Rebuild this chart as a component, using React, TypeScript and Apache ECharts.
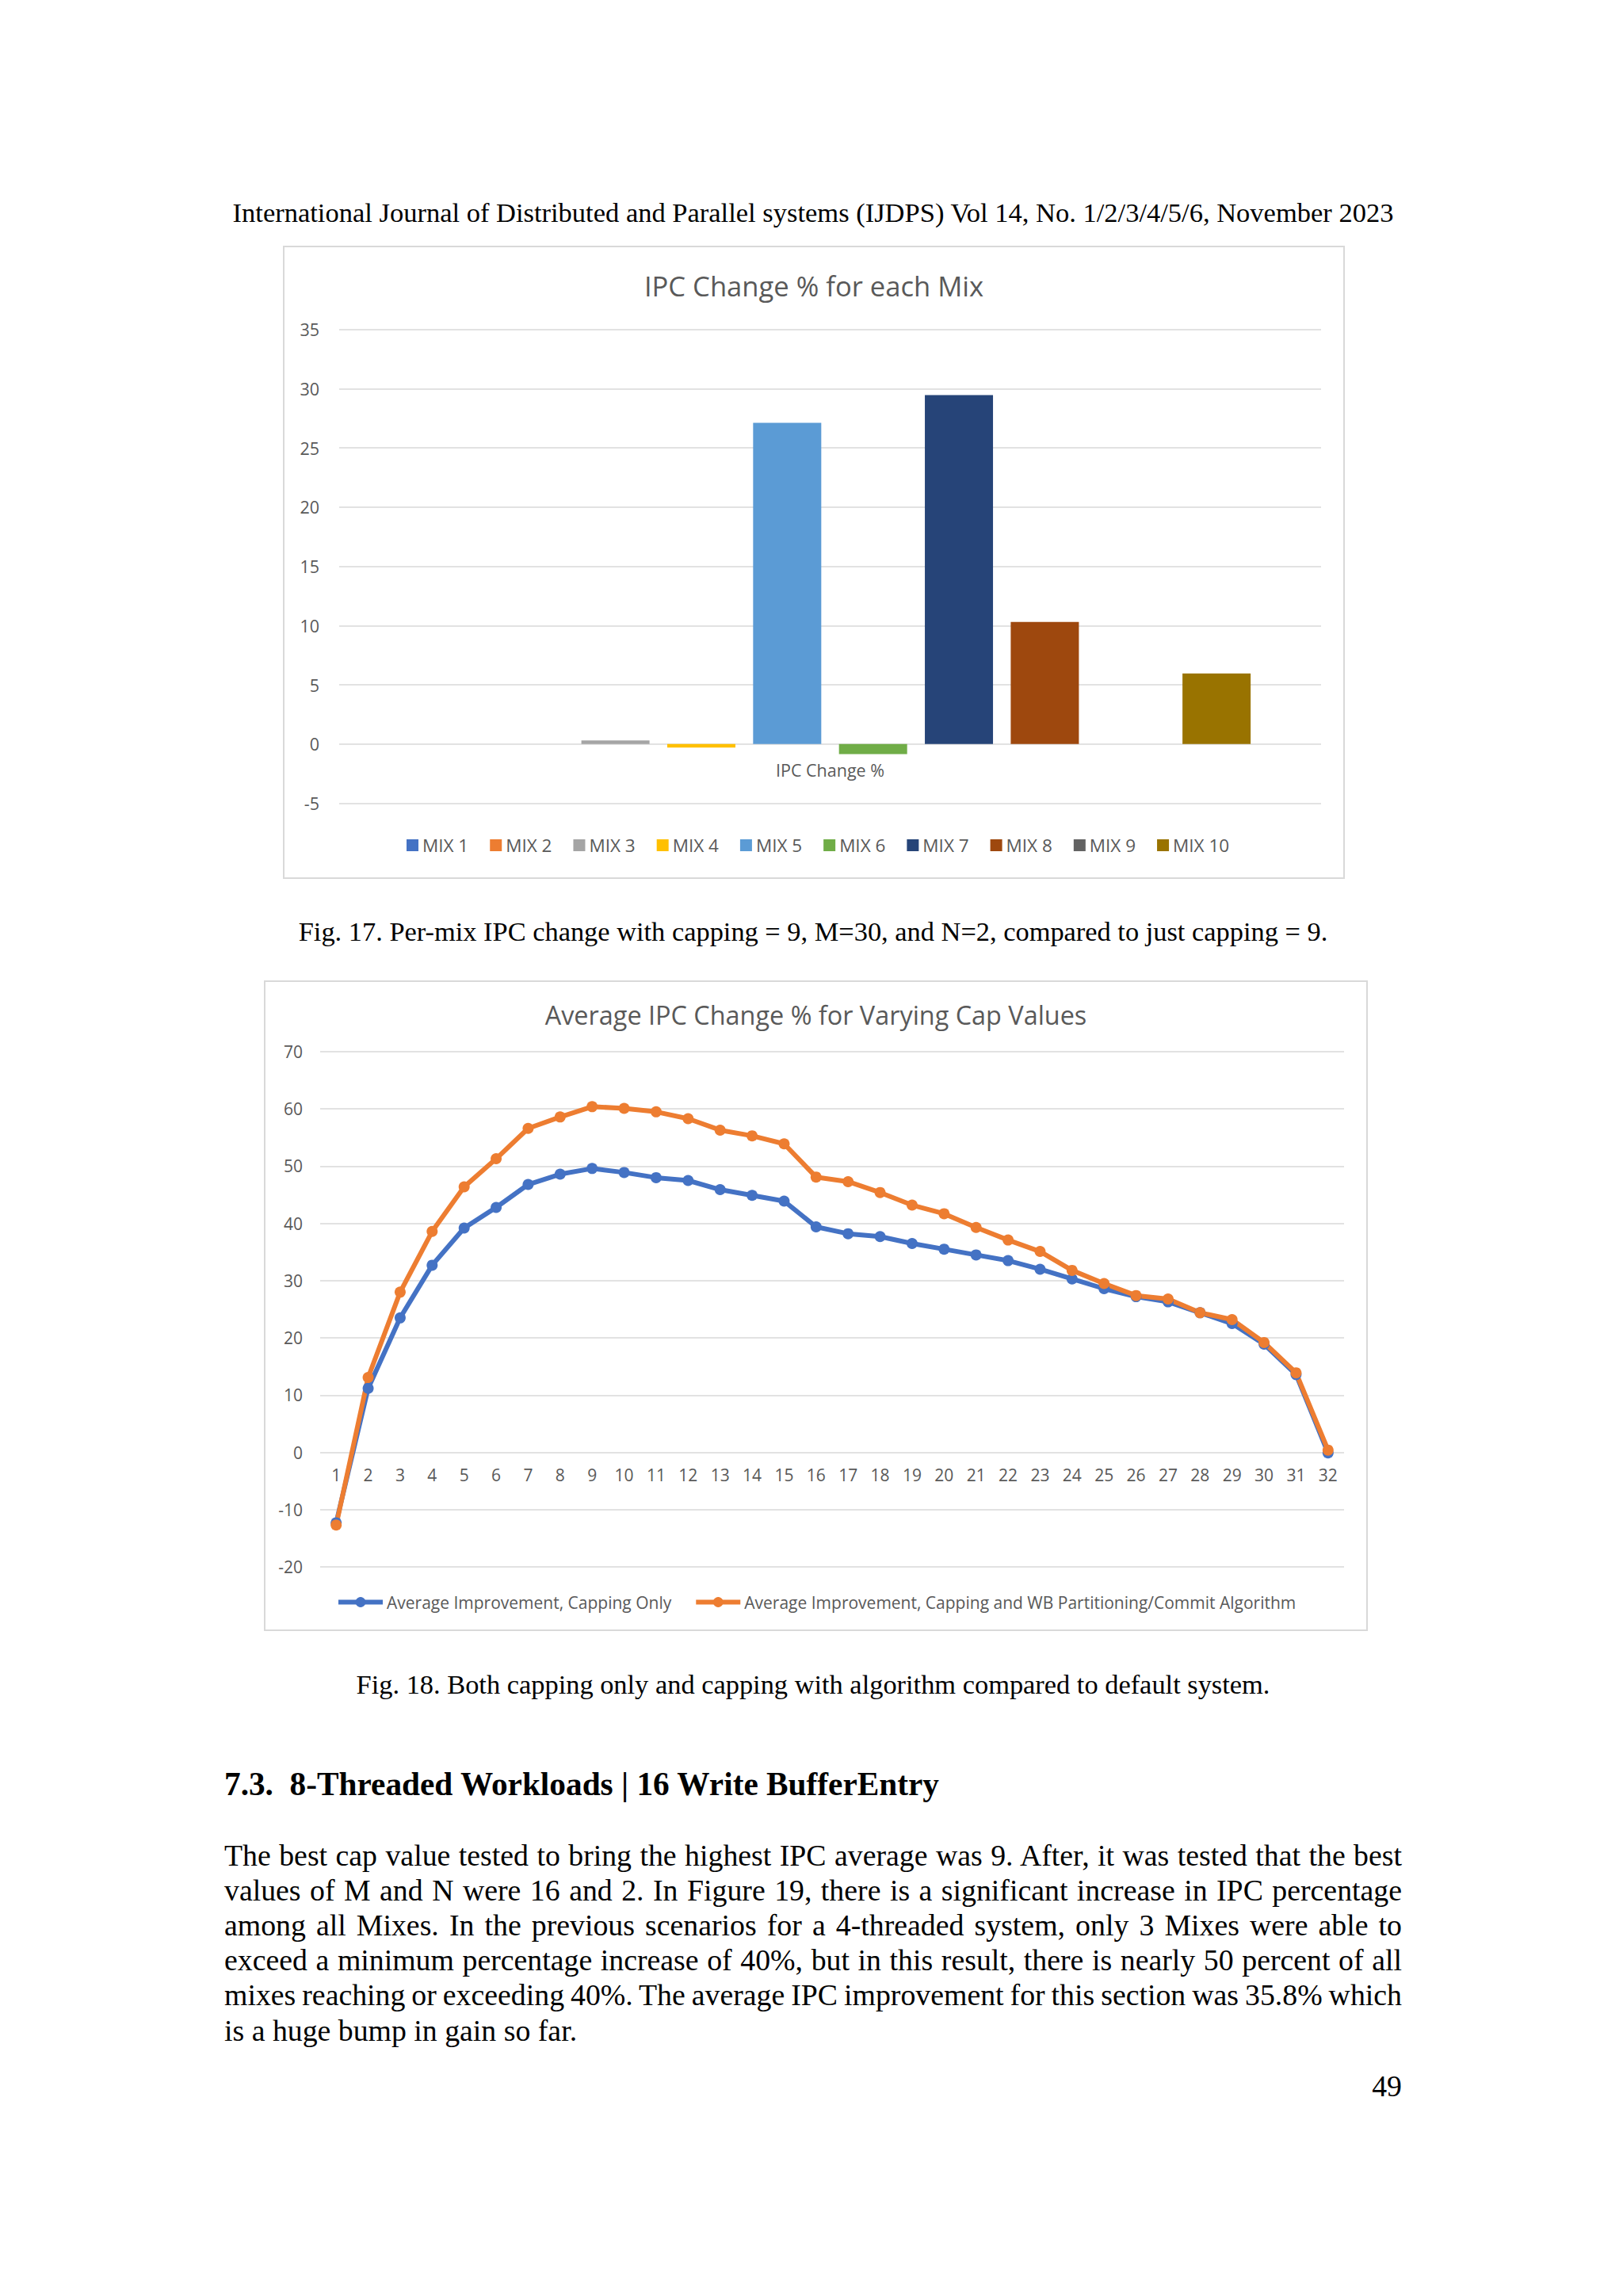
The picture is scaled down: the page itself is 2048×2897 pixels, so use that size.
import React, { useEffect, useRef } from "react";
import * as echarts from "echarts";

const FONT = "'Open Sans', sans-serif";
const SERIF = "'Liberation Serif', 'Times New Roman', serif";
const GRAY_TEXT = "#595959";
const GRID = "#D9D9D9";

// ---------- Fig. 17 data ----------
const barCategories = ["IPC Change %"];
const mixNames = ["MIX 1", "MIX 2", "MIX 3", "MIX 4", "MIX 5", "MIX 6", "MIX 7", "MIX 8", "MIX 9", "MIX 10"];
const mixValues = [0, 0, 0.3, -0.3, 27.1, -0.85, 29.45, 10.3, 0, 5.95];
const mixColors = ["#4472C4", "#ED7D31", "#A5A5A5", "#FFC000", "#5B9BD5", "#70AD47", "#264478", "#9E480E", "#636363", "#997300"];

// ---------- Fig. 18 data ----------
const capLabels = ["1", "2", "3", "4", "5", "6", "7", "8", "9", "10", "11", "12", "13", "14", "15", "16",
  "17", "18", "19", "20", "21", "22", "23", "24", "25", "26", "27", "28", "29", "30", "31", "32"];
const cappingOnly = [-12.3, 11.2, 23.5, 32.7, 39.2, 42.8, 46.8, 48.6, 49.6, 48.9, 48.0, 47.5, 45.9, 44.9, 43.9, 39.4,
  38.2, 37.7, 36.5, 35.5, 34.5, 33.5, 32.0, 30.3, 28.6, 27.2, 26.3, 24.4, 22.5, 18.9, 13.6, -0.1];
const cappingWithAlgo = [-12.7, 13.1, 28.0, 38.6, 46.4, 51.3, 56.6, 58.6, 60.4, 60.1, 59.5, 58.3, 56.3, 55.3, 53.9, 48.1,
  47.3, 45.4, 43.2, 41.7, 39.3, 37.1, 35.1, 31.8, 29.5, 27.4, 26.8, 24.4, 23.2, 19.2, 13.9, 0.4];
const lineNames = ["Average Improvement, Capping Only", "Average Improvement, Capping and WB Partitioning/Commit Algorithm"];
const lineColors = ["#4472C4", "#ED7D31"];

// ---------- page text ----------
const headerText = "International Journal of Distributed and Parallel systems (IJDPS) Vol 14, No. 1/2/3/4/5/6, November 2023";
const caption17 = "Fig. 17. Per-mix IPC change with capping = 9, M=30, and N=2, compared to just capping = 9.";
const caption18 = "Fig. 18. Both capping only and capping with algorithm compared to default system.";
const headingText = "7.3.  8-Threaded Workloads | 16 Write BufferEntry";
const bodyLines = [
  "The best cap value tested to bring the highest IPC average was 9. After, it was tested that the best",
  "values of M and N were 16 and 2. In Figure 19, there is a significant increase in IPC percentage",
  "among all Mixes. In the previous scenarios for a 4-threaded system, only 3 Mixes were able to",
  "exceed a minimum percentage increase of 40%, but in this result, there is nearly 50 percent of all",
  "mixes reaching or exceeding 40%. The average IPC improvement for this section was 35.8% which",
  "is a huge bump in gain so far.",
];
const pageNumber = "49";

function Chart({ option, left, top, width, height }: any) {
  const ref = useRef<HTMLDivElement>(null);
  useEffect(() => {
    if (!ref.current) return;
    const chart = echarts.init(ref.current, null, { renderer: "svg" });
    chart.setOption(option);
    return () => chart.dispose();
  }, []);
  return <div ref={ref} style={{ position: "absolute", left, top, width, height }} />;
}

const C1 = { left: 357, top: 310, width: 1340, height: 799 };
const C2 = { left: 333, top: 1237, width: 1393, height: 821 };

function border(w: number, h: number) {
  return [{
    type: "rect", silent: true,
    shape: { x: 1, y: 1, width: w - 2, height: h - 2 },
    style: { fill: "none", stroke: GRID, lineWidth: 2 },
  }];
}

// grid 1: height 598 for 40 units, zero is 5 units above the bottom
const option1: any = {
  animation: false,
  textStyle: { fontFamily: FONT },
  title: {
    text: "IPC Change % for each Mix", left: "center", top: 28,
    textStyle: { fontFamily: FONT, fontSize: 34.6, fontWeight: "normal", color: GRAY_TEXT },
  },
  grid: { left: 71, right: 30, top: 105.5, bottom: 95.5 },
  legend: {
    left: 156, top: 745, padding: 0, itemWidth: 15, itemHeight: 15, itemGap: 27, icon: "rect",
    data: mixNames,
    textStyle: { fontFamily: FONT, fontSize: 22.5, color: GRAY_TEXT },
  },
  xAxis: {
    type: "category", data: barCategories, offset: -74.75,
    axisLine: { show: false, onZero: false },
    axisTick: { show: false },
    axisLabel: { margin: 22, fontSize: 21.5, color: GRAY_TEXT, fontFamily: FONT },
  },
  yAxis: {
    type: "value", min: -5, max: 35, interval: 5,
    axisLine: { show: false }, axisTick: { show: false },
    axisLabel: { margin: 25, fontSize: 21.5, color: GRAY_TEXT, fontFamily: FONT },
    splitLine: { lineStyle: { color: GRID, width: 1.5 } },
  },
  series: mixNames.map((n, i) => ({
    type: "bar", name: n, data: [mixValues[i]], barWidth: 86, barGap: "26%",
    itemStyle: { color: mixColors[i] },
  })),
  graphic: border(C1.width, C1.height),
};

// grid 2: height 650 for 90 units, zero is 20 units above the bottom
const option2: any = {
  animation: false,
  textStyle: { fontFamily: FONT },
  title: {
    text: "Average IPC Change % for Varying Cap Values", left: "center", top: 22,
    textStyle: { fontFamily: FONT, fontSize: 32.4, fontWeight: "normal", color: GRAY_TEXT },
  },
  grid: { left: 71, right: 30, top: 90, bottom: 81 },
  legend: {
    left: 91, top: 774, padding: 0, itemWidth: 56, itemHeight: 16, itemGap: 28,
    data: lineNames,
    lineStyle: { width: 6 },
    textStyle: { fontFamily: FONT, fontSize: 21, color: GRAY_TEXT },
  },
  xAxis: {
    type: "category", data: capLabels, offset: -144.4,
    axisLine: { show: false, onZero: false },
    axisTick: { show: false },
    axisLabel: { margin: 18, fontSize: 21, color: GRAY_TEXT, fontFamily: FONT, interval: 0 },
  },
  yAxis: {
    type: "value", min: -20, max: 70, interval: 10,
    axisLine: { show: false }, axisTick: { show: false },
    axisLabel: { margin: 22, fontSize: 21, color: GRAY_TEXT, fontFamily: FONT },
    splitLine: { lineStyle: { color: GRID, width: 1.5 } },
  },
  series: [cappingOnly, cappingWithAlgo].map((d, i) => ({
    type: "line", name: lineNames[i], data: d,
    symbol: "circle", symbolSize: 14,
    lineStyle: { color: lineColors[i], width: 6 },
    itemStyle: { color: lineColors[i] },
  })),
  graphic: border(C2.width, C2.height),
};

function TextLine({ text, top, size, bold, align, justify }: any) {
  return (
    <div
      style={{
        position: "absolute", left: 283, top, width: 1486,
        fontFamily: SERIF, fontSize: size, lineHeight: "44px", height: 44,
        fontWeight: bold ? "bold" : "normal", color: "#000",
        textAlign: justify ? "justify" : align || "left",
        textAlignLast: justify ? "justify" : align || "left",
        whiteSpace: justify ? "normal" : "pre",
        wordSpacing: justify ? "-4px" : "normal",
      } as any}
    >
      {text}
    </div>
  );
}

export default function App() {
  return (
    <div style={{ position: "absolute", left: 0, top: 0, width: 2048, height: 2897, background: "#fff", overflow: "hidden" }}>
      <TextLine text={headerText} top={268 - 22} size={34.5} align="center" />
      <Chart option={option1} {...C1} />
      <TextLine text={caption17} top={1175 - 22} size={34.4} align="center" />
      <Chart option={option2} {...C2} />
      <TextLine text={caption18} top={2125 - 22} size={34.4} align="center" />
      <TextLine text={headingText} top={2251 - 22} size={41.3} bold />
      {bodyLines.map((t, i) => (
        <TextLine key={i} text={t} top={2341 + i * 44.1 - 22} size={37.8} justify={i < bodyLines.length - 1} />
      ))}
      <TextLine text={pageNumber} top={2632 - 22} size={37.8} align="right" />
    </div>
  );
}
